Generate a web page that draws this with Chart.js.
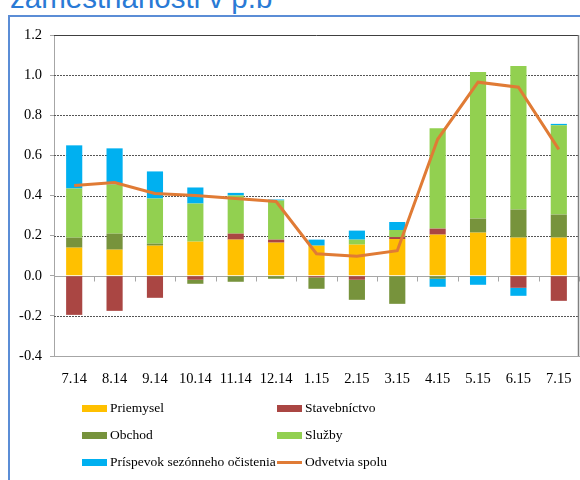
<!DOCTYPE html>
<html><head><meta charset="utf-8">
<script src="https://cdn.jsdelivr.net/npm/chart.js@4"></script>
<style>
html,body{margin:0;padding:0;background:#fff;}
#wrap{position:relative;width:580px;height:480px;overflow:hidden;background:#fff;}
#title{position:absolute;left:10px;top:-17px;font-family:'Liberation Sans',Arial,sans-serif;font-size:29.5px;line-height:30px;color:#2A7AD5;white-space:nowrap;}
#frame{position:absolute;left:8px;top:15px;width:600px;height:500px;border-top:2px solid #5B8DD6;border-left:2px solid #5B8DD6;}
#cv{position:absolute;left:0;top:0;}
#legend{position:absolute;left:0;top:0;width:580px;height:480px;font-family:'Liberation Serif','Times New Roman',serif;font-size:13.5px;color:#000;}
.li{position:absolute;display:flex;align-items:center;height:18px;white-space:nowrap;}
.sw{width:25px;margin-right:3px;}
</style></head>
<body>
<div id="wrap">
  <div id="title">zamestnanosti v p.b</div>
  <div id="frame"></div>
  <canvas id="cv" width="580" height="480"></canvas>
  <div id="legend"></div>
</div>
<script>
const categories = ['7.14','8.14','9.14','10.14','11.14','12.14','1.15','2.15','3.15','4.15','5.15','6.15','7.15'];
const priemysel    = [0.14, 0.13, 0.15, 0.17, 0.18, 0.165, 0.15, 0.155, 0.183, 0.205, 0.215, 0.19, 0.19];
const stavebnictvo = [-0.195, -0.175, -0.11, -0.02, 0.03, 0.015, -0.008, -0.02, 0.01, 0.03, 0, -0.06, -0.125];
const obchod       = [0.05, 0.08, 0.01, -0.02, -0.03, -0.015, -0.057, -0.10, -0.14, -0.015, 0.07, 0.14, 0.115];
const sluzby       = [0.245, 0.245, 0.225, 0.19, 0.19, 0.195, 0, 0.025, 0.035, 0.50, 0.73, 0.715, 0.445];
const prispevok    = [0.215, 0.18, 0.135, 0.08, 0.013, 0.005, 0.03, 0.045, 0.04, -0.04, -0.045, -0.04, 0.007];
const spolu        = [0.45, 0.465, 0.41, 0.40, 0.385, 0.37, 0.11, 0.097, 0.125, 0.68, 0.965, 0.94, 0.63];
const yMin = -0.4, yMax = 1.2, yStep = 0.2;

const seriesNames = ['Priemysel','Stavebníctvo','Obchod','Služby','Príspevok sezónneho očistenia','Odvetvia spolu'];
const seriesColors = ['#FFC000','#AA4643','#77933C','#92D050','#00B0F0','#E07B35'];

const barData = [priemysel, stavebnictvo, obchod, sluzby, prispevok];
const datasets = barData.map((d,i)=>({
  type:'bar', label:seriesNames[i], data:d, backgroundColor:seriesColors[i],
  borderWidth:0, stack:'bars', order:2, categoryPercentage:1, barPercentage:0.4
}));
datasets.push({
  type:'line', label:seriesNames[5], data:spolu, borderColor:seriesColors[5],
  backgroundColor:seriesColors[5], borderWidth:3, pointRadius:0, tension:0,
  stack:'total', order:0, fill:false
});

const gridPlugin = {
  id:'customGrid',
  beforeDatasetsDraw(chart){
    const {ctx, chartArea:a, scales:{x,y}} = chart;
    ctx.save();
    y.ticks.forEach(t=>{
      if (Math.abs(t.value-y.min)<1e-9 || Math.abs(t.value-y.max)<1e-9) return;
      const py = Math.round(y.getPixelForValue(t.value))+0.5;
      ctx.beginPath();
      if (Math.abs(t.value)<1e-9){ctx.setLineDash([]);ctx.strokeStyle='#a6a6a6';ctx.lineWidth=1.2;}
      else {ctx.setLineDash([2,1]);ctx.strokeStyle='#555';ctx.lineWidth=1;}
      ctx.moveTo(a.left,py);ctx.lineTo(a.right,py);ctx.stroke();
    });
    const y0 = Math.round(y.getPixelForValue(0))+0.5;
    const half = (x.getPixelForValue(1)-x.getPixelForValue(0))/2;
    ctx.setLineDash([]);ctx.strokeStyle='#a6a6a6';ctx.lineWidth=1;
    for(let i=0;i<categories.length;i++){
      const px = Math.round(x.getPixelForValue(i)+half)+0.5;
      ctx.beginPath();ctx.moveTo(px,y0);ctx.lineTo(px,y0+5);ctx.stroke();
    }
    ctx.restore();
  },
  afterDraw(chart){
    const {ctx, chartArea:a} = chart;
    ctx.save();
    ctx.strokeStyle='#404040';ctx.lineWidth=1;
    ctx.beginPath();ctx.moveTo(a.left,Math.round(a.top)+0.5);ctx.lineTo(a.right,Math.round(a.top)+0.5);ctx.stroke();
    ctx.strokeStyle='#808080';ctx.lineWidth=1.5;
    ctx.beginPath();ctx.moveTo(a.right-0.5,a.top);ctx.lineTo(a.right-0.5,a.bottom);ctx.stroke();
    ctx.restore();
  }
};

const tickFont = {family:"'Liberation Serif','Times New Roman',serif", size:14.5};
const chart = new Chart(document.getElementById('cv'), {
  data:{labels:categories, datasets},
  options:{
    responsive:false, animation:false,
    layout:{padding:{top:35,right:1,left:0,bottom:0}},
    plugins:{legend:{display:false}, tooltip:{enabled:false}},
    scales:{
      x:{stacked:true,
         grid:{display:true, drawOnChartArea:false, drawTicks:true, tickLength:14, tickColor:'rgba(0,0,0,0)', color:'rgba(0,0,0,0)'},
         border:{display:true,color:'#a6a6a6'},
         ticks:{font:tickFont,color:'#000',padding:0,autoSkip:false,maxRotation:0},
         afterFit(s){s.height=124;}},
      y:{stacked:true, min:yMin, max:yMax,
         grid:{drawOnChartArea:false, drawTicks:true, tickLength:4, color:'#a6a6a6'},
         border:{display:true,color:'#a6a6a6'},
         ticks:{stepSize:yStep,font:tickFont,color:'#000',padding:8,
           callback:v=>Math.abs(v)<1e-9?'0.0':Number(v).toFixed(1)},
         afterFit(s){s.width=54;}}
    }
  },
  plugins:[gridPlugin]
});

const lg = document.getElementById('legend');
chart.data.datasets.forEach((ds,i)=>{
  const col=i%2,row=Math.floor(i/2);
  const it=document.createElement('div');
  it.className='li';
  it.style.left=(82+col*195)+'px';
  it.style.top=(399+row*27)+'px';
  const sw=document.createElement('div');
  sw.className='sw';
  sw.style.background=ds.type==='line'?ds.borderColor:ds.backgroundColor;
  sw.style.height=ds.type==='line'?'3px':'7px';
  const tx=document.createElement('span');
  tx.textContent=ds.label;
  it.appendChild(sw);it.appendChild(tx);
  lg.appendChild(it);
});
</script>
</body></html>
